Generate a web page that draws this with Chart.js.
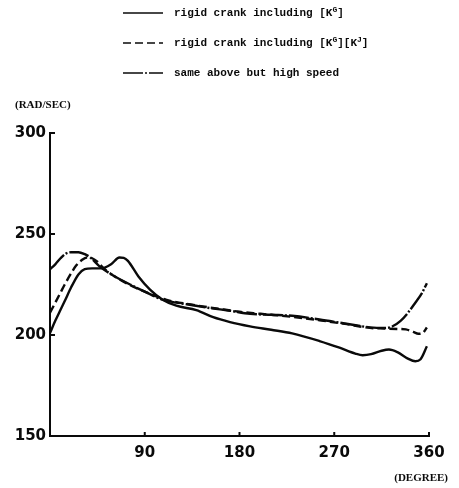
<!DOCTYPE html>
<html>
<head>
<meta charset="utf-8">
<script src="https://cdn.jsdelivr.net/npm/chart.js@4.4.0/dist/chart.umd.min.js"></script>
<style>
  html, body { margin: 0; padding: 0; background: #fff; }
  canvas { display: block; }
</style>
</head>
<body>
<canvas id="grafico" width="459" height="488"></canvas>
<script>
// crank angle (degree) and angular speed (rad/sec) for each case
const anguloKG = [0, 5, 10, 14, 20, 27, 33, 40, 46, 52, 58, 66, 70, 74, 84, 95, 107, 120, 139, 155, 171, 190, 210, 230, 256, 275, 290, 297, 305, 315, 322, 330, 340, 347, 352, 358];
const velocidadeKG = [201, 207, 212.5, 216.8, 223.5, 230, 232.6, 233, 233, 233.4, 235, 238.4, 238.2, 236.7, 229, 222.5, 217.5, 214.5, 212.3, 208.8, 206.4, 204.3, 202.6, 200.8, 197, 193.7, 190.8, 190, 190.5, 192.2, 192.8, 191.5, 188.3, 187, 188, 194.4];

const anguloKGKJ = [0, 5, 10, 14, 20, 25, 30, 35, 40, 45, 50, 60, 75, 90, 110, 135, 160, 180, 200, 230, 256, 280, 304, 318, 330, 338, 345, 350, 354, 358];
const velocidadeKGKJ = [211, 216, 221, 225, 230.5, 234.5, 237, 238.4, 238, 236.3, 233.5, 229.5, 225, 221.5, 217.5, 215, 213, 211.5, 210.5, 209, 207.3, 205.5, 203.5, 203.2, 203, 202.8, 201.5, 200.6, 201, 203.7];

const anguloAlta = [0, 5, 10, 15, 20, 27, 33, 38, 47, 60, 76, 90, 107, 130, 150, 171, 190, 210, 230, 256, 280, 304, 318, 325, 333, 340, 347, 353, 358];
const velocidadeAlta = [232.6, 235, 238, 240.3, 241, 241, 240, 238.5, 234, 229.5, 225, 221.5, 217.5, 215.2, 213.5, 212, 210.5, 210, 209.5, 207.7, 205.7, 203.8, 203.5, 204.2, 207, 211, 216, 220.5, 225.6];

const ticksX = [90, 180, 270, 360];
const ticksY = [150, 200, 250, 300];

const legenda = [
  { partes: [['rigid crank including [K'], ['G', true], [']']], dash: [] },
  { partes: [['rigid crank including [K'], ['G', true], ['][K'], ['J', true], [']']], dash: [8, 4] },
  { partes: [['same above but high speed']], dash: [20, 2, 2, 2] }
];

const pontos = (xs, ys) => xs.map((x, i) => ({ x: x, y: ys[i] }));

const serie = (dados, dash) => ({
  data: dados,
  borderColor: '#0a0a0a',
  borderWidth: 2.4,
  borderDash: dash,
  pointRadius: 0,
  fill: false,
  cubicInterpolationMode: 'monotone'
});

// inward ticks, unit labels and the legend above the plot
const extras = {
  id: 'extras',
  afterDraw(chart) {
    const c = chart.ctx;
    const { left, bottom } = chart.chartArea;
    const sx = chart.scales.x;
    const sy = chart.scales.y;
    c.save();
    c.strokeStyle = '#0a0a0a';
    c.fillStyle = '#0a0a0a';
    c.lineWidth = 2;
    ticksX.forEach((v) => {
      const px = sx.getPixelForValue(v);
      c.beginPath();
      c.moveTo(px, bottom);
      c.lineTo(px, bottom - 4);
      c.stroke();
    });
    ticksY.slice(1).forEach((v) => {
      const py = sy.getPixelForValue(v);
      c.beginPath();
      c.moveTo(left, py);
      c.lineTo(left + 5, py);
      c.stroke();
    });

    c.font = 'bold 11px "Liberation Serif"';
    c.textBaseline = 'middle';
    c.textAlign = 'left';
    c.fillText('(RAD/SEC)', 15, 105);
    c.textAlign = 'right';
    c.fillText('(DEGREE)', 448, 478);

    c.textAlign = 'left';
    legenda.forEach((item, i) => {
      const ly = 13 + 30 * i;
      c.setLineDash(item.dash);
      c.lineWidth = 1.5;
      c.beginPath();
      c.moveTo(123, ly);
      c.lineTo(163, ly);
      c.stroke();
      c.setLineDash([]);
      let tx = 174;
      item.partes.forEach(([txt, sup]) => {
        c.font = sup ? 'bold 8px "Liberation Mono"' : 'bold 11px "Liberation Mono"';
        c.fillText(txt, tx, sup ? ly - 3 : ly);
        tx += c.measureText(txt).width;
      });
    });
    c.restore();
  }
};

new Chart(document.getElementById('grafico'), {
  type: 'line',
  data: {
    datasets: [
      serie(pontos(anguloKG, velocidadeKG), legenda[0].dash),
      serie(pontos(anguloKGKJ, velocidadeKGKJ), legenda[1].dash),
      serie(pontos(anguloAlta, velocidadeAlta), legenda[2].dash)
    ]
  },
  options: {
    responsive: false,
    animation: false,
    devicePixelRatio: 1,
    layout: { padding: { top: 133, right: 30, left: 0, bottom: 0 } },
    plugins: { legend: { display: false }, tooltip: { enabled: false } },
    scales: {
      x: {
        type: 'linear',
        min: 0,
        max: 360,
        afterBuildTicks: (s) => { s.ticks = ticksX.map((v) => ({ value: v })); },
        afterFit: (s) => { s.height = 52; },
        ticks: { color: '#0a0a0a', padding: 8, maxRotation: 0, font: { family: 'DejaVu Sans', weight: 'bold', size: 15 } },
        grid: { display: false, drawTicks: false },
        border: { display: true, color: '#0a0a0a', width: 2 }
      },
      y: {
        min: 150,
        max: 300,
        afterBuildTicks: (s) => { s.ticks = ticksY.map((v) => ({ value: v })); },
        afterFit: (s) => { s.width = 50; },
        ticks: { color: '#0a0a0a', padding: 4, font: { family: 'DejaVu Sans', weight: 'bold', size: 15 } },
        grid: { display: false, drawTicks: false },
        border: { display: true, color: '#0a0a0a', width: 2 }
      }
    }
  },
  plugins: [extras]
});
</script>
</body>
</html>
